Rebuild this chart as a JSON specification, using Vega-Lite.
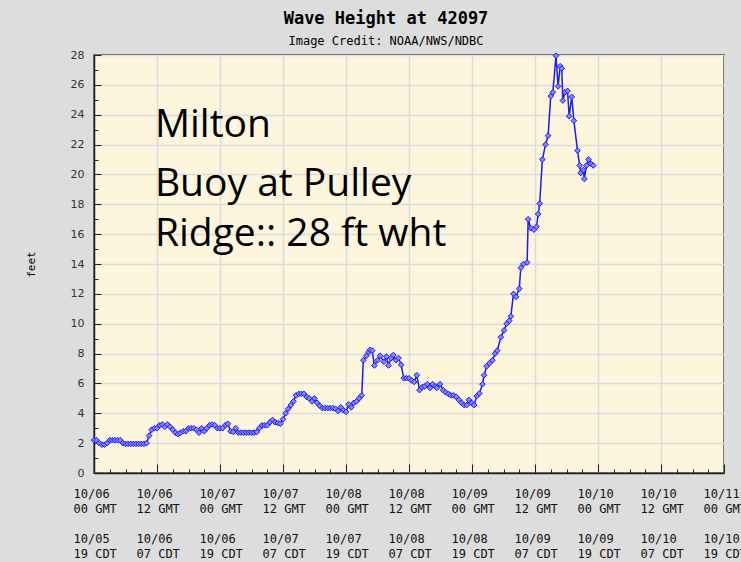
{
  "$schema": "https://vega.github.io/schema/vega-lite/v6.json",
  "width": 630,
  "height": 418,
  "autosize": {"type": "none"},
  "padding": {"left": 94, "top": 55, "right": 17, "bottom": 89},
  "background": "#dddddd",
  "title": {
    "text": "Wave Height at 42097",
    "subtitle": "Image Credit: NOAA/NWS/NDBC",
    "font": "DejaVu Sans Mono",
    "fontSize": 17,
    "fontWeight": "bold",
    "color": "#000000",
    "subtitleFont": "DejaVu Sans Mono",
    "subtitleFontSize": 12,
    "subtitleColor": "#000000",
    "anchor": "middle",
    "dx": -23,
    "offset": 1,
    "subtitlePadding": 8
  },
  "config": {
    "view": {"fill": "#fdf6dc", "stroke": "#222222", "strokeWidth": 1.5}
  },
  "data": {
    "values": [
      {"h": 0, "ft": 2.2}, {"h": 0.5, "ft": 2.2}, {"h": 1, "ft": 2.0}, {"h": 1.5, "ft": 1.9}, {"h": 2, "ft": 1.9},
      {"h": 2.5, "ft": 2.0}, {"h": 3, "ft": 2.2}, {"h": 3.5, "ft": 2.2}, {"h": 4, "ft": 2.2}, {"h": 4.5, "ft": 2.2},
      {"h": 5, "ft": 2.2}, {"h": 5.5, "ft": 2.0}, {"h": 6, "ft": 1.95}, {"h": 6.5, "ft": 1.95}, {"h": 7, "ft": 1.95},
      {"h": 7.5, "ft": 1.95}, {"h": 8, "ft": 1.95}, {"h": 8.5, "ft": 1.95}, {"h": 9, "ft": 1.95}, {"h": 9.5, "ft": 1.95},
      {"h": 10, "ft": 2.0}, {"h": 10.5, "ft": 2.5}, {"h": 11, "ft": 2.9}, {"h": 11.5, "ft": 3.0}, {"h": 12, "ft": 3.0},
      {"h": 12.5, "ft": 3.2}, {"h": 13, "ft": 3.25}, {"h": 13.5, "ft": 3.1}, {"h": 14, "ft": 3.25}, {"h": 14.5, "ft": 3.1},
      {"h": 15, "ft": 2.9}, {"h": 15.5, "ft": 2.7}, {"h": 16, "ft": 2.6}, {"h": 16.5, "ft": 2.7}, {"h": 17, "ft": 2.8},
      {"h": 17.5, "ft": 2.8}, {"h": 18, "ft": 3.0}, {"h": 18.5, "ft": 3.0}, {"h": 19, "ft": 3.0}, {"h": 19.5, "ft": 2.9},
      {"h": 20, "ft": 2.7}, {"h": 20.5, "ft": 3.0}, {"h": 21, "ft": 2.8}, {"h": 21.5, "ft": 3.0}, {"h": 22, "ft": 3.2},
      {"h": 22.5, "ft": 3.25}, {"h": 23, "ft": 3.2}, {"h": 23.5, "ft": 3.0}, {"h": 24, "ft": 3.0}, {"h": 24.5, "ft": 3.0},
      {"h": 25, "ft": 3.2}, {"h": 25.5, "ft": 3.3}, {"h": 26, "ft": 2.8}, {"h": 26.5, "ft": 2.75}, {"h": 27, "ft": 3.0},
      {"h": 27.5, "ft": 2.7}, {"h": 28, "ft": 2.7}, {"h": 28.5, "ft": 2.7}, {"h": 29, "ft": 2.7}, {"h": 29.5, "ft": 2.7},
      {"h": 30, "ft": 2.7}, {"h": 30.5, "ft": 2.7}, {"h": 31, "ft": 2.75}, {"h": 31.5, "ft": 3.0}, {"h": 32, "ft": 3.2},
      {"h": 32.5, "ft": 3.2}, {"h": 33, "ft": 3.2}, {"h": 33.5, "ft": 3.4}, {"h": 34, "ft": 3.55}, {"h": 34.5, "ft": 3.4},
      {"h": 35, "ft": 3.35}, {"h": 35.5, "ft": 3.3}, {"h": 36, "ft": 3.6}, {"h": 36.5, "ft": 4.0}, {"h": 37, "ft": 4.3},
      {"h": 37.5, "ft": 4.55}, {"h": 38, "ft": 4.8}, {"h": 38.5, "ft": 5.2}, {"h": 39, "ft": 5.3}, {"h": 39.5, "ft": 5.3},
      {"h": 40, "ft": 5.3}, {"h": 40.5, "ft": 5.1}, {"h": 41, "ft": 5.0}, {"h": 41.5, "ft": 4.8}, {"h": 42, "ft": 5.0},
      {"h": 42.5, "ft": 4.7}, {"h": 43, "ft": 4.5}, {"h": 43.5, "ft": 4.35}, {"h": 44, "ft": 4.35}, {"h": 44.5, "ft": 4.35},
      {"h": 45, "ft": 4.35}, {"h": 45.5, "ft": 4.35}, {"h": 46, "ft": 4.3}, {"h": 46.5, "ft": 4.15}, {"h": 47, "ft": 4.4},
      {"h": 47.5, "ft": 4.2}, {"h": 48, "ft": 4.1}, {"h": 48.5, "ft": 4.6}, {"h": 49, "ft": 4.4}, {"h": 49.5, "ft": 4.7},
      {"h": 50, "ft": 4.8}, {"h": 50.5, "ft": 5.0}, {"h": 51, "ft": 5.2}, {"h": 51.3, "ft": 7.55}, {"h": 51.9, "ft": 7.85},
      {"h": 52.3, "ft": 8.1}, {"h": 52.6, "ft": 8.25}, {"h": 53, "ft": 8.2}, {"h": 53.4, "ft": 7.2}, {"h": 54, "ft": 7.55},
      {"h": 54.5, "ft": 7.85}, {"h": 55.2, "ft": 7.45}, {"h": 55.7, "ft": 7.8}, {"h": 56.1, "ft": 7.2}, {"h": 56.6, "ft": 7.7},
      {"h": 57, "ft": 7.9}, {"h": 57.5, "ft": 7.55}, {"h": 58, "ft": 7.7}, {"h": 58.5, "ft": 7.25}, {"h": 59, "ft": 6.35},
      {"h": 59.5, "ft": 6.35}, {"h": 60, "ft": 6.35}, {"h": 60.5, "ft": 6.2}, {"h": 61, "ft": 6.1}, {"h": 61.5, "ft": 6.55},
      {"h": 62, "ft": 5.55}, {"h": 62.5, "ft": 5.75}, {"h": 63, "ft": 5.8}, {"h": 63.5, "ft": 5.95}, {"h": 64, "ft": 5.7},
      {"h": 64.5, "ft": 5.95}, {"h": 65, "ft": 5.8}, {"h": 65.3, "ft": 5.7}, {"h": 65.9, "ft": 5.95}, {"h": 66.5, "ft": 5.55},
      {"h": 67, "ft": 5.4}, {"h": 67.5, "ft": 5.3}, {"h": 68, "ft": 5.2}, {"h": 68.5, "ft": 5.2}, {"h": 69, "ft": 5.1},
      {"h": 69.5, "ft": 4.9}, {"h": 70, "ft": 4.7}, {"h": 70.5, "ft": 4.55}, {"h": 71, "ft": 4.55}, {"h": 71.4, "ft": 4.9},
      {"h": 71.9, "ft": 4.7}, {"h": 72.4, "ft": 4.55}, {"h": 72.9, "ft": 5.15}, {"h": 73.4, "ft": 5.33}, {"h": 74, "ft": 5.95},
      {"h": 74.3, "ft": 6.55}, {"h": 74.8, "ft": 7.15}, {"h": 75.3, "ft": 7.35}, {"h": 75.9, "ft": 7.55}, {"h": 76.4, "ft": 8.0},
      {"h": 76.8, "ft": 8.2}, {"h": 77.5, "ft": 9.1}, {"h": 78.1, "ft": 9.55}, {"h": 78.6, "ft": 10.0}, {"h": 79.1, "ft": 10.2},
      {"h": 79.4, "ft": 10.5}, {"h": 79.9, "ft": 12.0}, {"h": 80.4, "ft": 11.8}, {"h": 81, "ft": 12.35}, {"h": 81.3, "ft": 13.75},
      {"h": 81.8, "ft": 14.0}, {"h": 82.5, "ft": 14.1}, {"h": 82.7, "ft": 17.0}, {"h": 83.2, "ft": 16.4}, {"h": 83.8, "ft": 16.3},
      {"h": 84.3, "ft": 16.5}, {"h": 84.6, "ft": 17.35}, {"h": 84.9, "ft": 18.05}, {"h": 85.4, "ft": 21.0}, {"h": 86, "ft": 22.0},
      {"h": 86.5, "ft": 22.6}, {"h": 87, "ft": 25.25}, {"h": 87.4, "ft": 25.5}, {"h": 88, "ft": 27.95}, {"h": 88.4, "ft": 25.9},
      {"h": 88.8, "ft": 27.25}, {"h": 89.1, "ft": 27.1}, {"h": 89.3, "ft": 24.95}, {"h": 89.7, "ft": 25.5}, {"h": 90.2, "ft": 25.6},
      {"h": 90.5, "ft": 23.9}, {"h": 91, "ft": 25.2}, {"h": 91.4, "ft": 23.6}, {"h": 92.1, "ft": 21.6}, {"h": 92.5, "ft": 20.6},
      {"h": 92.7, "ft": 20.1}, {"h": 93.2, "ft": 20.3}, {"h": 93.4, "ft": 19.7}, {"h": 93.8, "ft": 20.6}, {"h": 94.2, "ft": 21.0},
      {"h": 94.7, "ft": 20.7}, {"h": 95.1, "ft": 20.6}
    ]
  },
  "resolve": {"axis": {"x": "independent", "y": "independent"}},
  "layer": [
    {
      "mark": {"type": "line", "color": "#1a1aff", "strokeWidth": 1.5},
      "encoding": {
        "x": {
          "field": "h",
          "type": "quantitative",
          "scale": {"domain": [0, 120], "nice": false, "zero": false},
          "axis": {
            "orient": "bottom",
            "title": null,
            "values": [0, 12, 24, 36, 48, 60, 72, 84, 96, 108, 120],
            "labelExpr": "[utcFormat(utc(2024,9,6) + datum.value*3600000, '%m/%d'), utcFormat(utc(2024,9,6) + datum.value*3600000, '%H') + ' GMT']",
            "labelFont": "DejaVu Sans Mono",
            "labelFontSize": 12,
            "labelColor": "#111111",
            "labelAlign": "left",
            "labelOffset": -21,
            "labelBaseline": "top",
            "labelLineHeight": 15,
            "labelPadding": 15,
            "labelOverlap": false,
            "labelFlush": false,
            "labelBound": false,
            "ticks": false,
            "tickSize": 0,
            "grid": true,
            "gridColor": "#dcdcdc",
            "gridWidth": 1.5,
            "domainColor": "#222222",
            "domainWidth": 1.5
          }
        },
        "y": {
          "field": "ft",
          "type": "quantitative",
          "scale": {"domain": [0, 28], "nice": false},
          "axis": {
            "orient": "left",
            "title": "feet",
            "values": [0, 2, 4, 6, 8, 10, 12, 14, 16, 18, 20, 22, 24, 26, 28],
            "labelFont": "DejaVu Sans",
            "labelFontSize": 11,
            "labelColor": "#333333",
            "labelPadding": 10,
            "labelOverlap": false,
            "labelFlush": false,
            "ticks": false,
            "tickSize": 0,
            "grid": true,
            "gridColor": "#dcdcdc",
            "gridWidth": 1.5,
            "domainColor": "#222222",
            "domainWidth": 1.5,
            "titleFont": "DejaVu Sans Mono",
            "titleFontSize": 11,
            "titleFontWeight": "normal",
            "titleColor": "#000000",
            "titleAngle": -90,
            "titleX": -63,
            "titleY": 209,
            "titleAlign": "center",
            "titleBaseline": "middle"
          }
        }
      }
    },
    {
      "mark": {"type": "point", "shape": "diamond", "filled": true, "fill": "#8585ff", "stroke": "#1a1aff", "strokeWidth": 1, "size": 32, "opacity": 1},
      "encoding": {
        "x": {
          "field": "h",
          "type": "quantitative",
          "scale": {"domain": [0, 120], "nice": false, "zero": false},
          "axis": {"orient": "top", "offset": -418, "title": null, "values": [0, 12, 24, 36, 48, 60, 72, 84, 96, 108, 120], "labels": false, "domain": false, "grid": false, "ticks": true, "tickSize": 9, "tickColor": "#222222", "tickWidth": 1}
        },
        "y": {
          "field": "ft",
          "type": "quantitative",
          "scale": {"domain": [0, 28], "nice": false},
          "axis": {"orient": "right", "offset": -630, "title": null, "values": [0, 2, 4, 6, 8, 10, 12, 14, 16, 18, 20, 22, 24, 26, 28], "labels": false, "domain": false, "grid": false, "ticks": true, "tickSize": 7, "tickColor": "#222222", "tickWidth": 1}
        }
      }
    },
    {
      "data": {"values": [{"label": "Milton", "h": 11.6, "ft": 22.5}]},
      "mark": {"type": "text", "align": "left", "baseline": "alphabetic", "font": "Open Sans", "fontSize": 39, "fontWeight": 500, "color": "#000000"},
      "encoding": {
        "x": {
          "field": "h",
          "type": "quantitative",
          "scale": {"domain": [0, 120], "nice": false, "zero": false},
          "axis": {"orient": "top", "offset": -418, "title": null, "values": [3, 6, 9, 15, 18, 21, 27, 30, 33, 39, 42, 45, 51, 54, 57, 63, 66, 69, 75, 78, 81, 87, 90, 93, 99, 102, 105, 111, 114, 117], "labels": false, "domain": false, "grid": false, "ticks": true, "tickSize": 4, "tickColor": "#222222", "tickWidth": 1}
        },
        "y": {
          "field": "ft",
          "type": "quantitative",
          "scale": {"domain": [0, 28], "nice": false},
          "axis": {"orient": "right", "offset": -630, "title": null, "values": [1, 3, 5, 7, 9, 11, 13, 15, 17, 19, 21, 23, 25, 27], "labels": false, "domain": false, "grid": false, "ticks": true, "tickSize": 4, "tickColor": "#222222", "tickWidth": 1}
        },
        "text": {"field": "label"}
      }
    },
    {
      "data": {"values": [{"label": "Buoy at Pulley", "h": 11.6, "ft": 18.55}]},
      "mark": {"type": "text", "align": "left", "baseline": "alphabetic", "font": "Open Sans", "fontSize": 39, "color": "#000000"},
      "encoding": {
        "x": {
          "field": "h",
          "type": "quantitative",
          "scale": {"domain": [0, 120], "nice": false, "zero": false},
          "axis": {
            "orient": "bottom",
            "title": null,
            "values": [0, 12, 24, 36, 48, 60, 72, 84, 96, 108, 120],
            "labelExpr": "[utcFormat(utc(2024,9,6) + (datum.value-5)*3600000, '%m/%d'), utcFormat(utc(2024,9,6) + (datum.value-5)*3600000, '%H') + ' CDT']",
            "labelFont": "DejaVu Sans Mono",
            "labelFontSize": 12,
            "labelColor": "#111111",
            "labelAlign": "left",
            "labelOffset": -21,
            "labelBaseline": "top",
            "labelLineHeight": 15,
            "labelPadding": 60,
            "labelOverlap": false,
            "labelFlush": false,
            "labelBound": false,
            "ticks": false,
            "tickSize": 0,
            "grid": false,
            "domain": false
          }
        },
        "y": {"field": "ft", "type": "quantitative", "axis": null},
        "text": {"field": "label"}
      }
    },
    {
      "data": {"values": [{"label": "Ridge:: 28 ft wht", "h": 11.6, "ft": 15.2}]},
      "mark": {"type": "text", "align": "left", "baseline": "alphabetic", "font": "Open Sans", "fontSize": 39, "color": "#000000"},
      "encoding": {
        "x": {"field": "h", "type": "quantitative", "axis": null},
        "y": {"field": "ft", "type": "quantitative", "axis": null},
        "text": {"field": "label"}
      }
    }
  ]
}
